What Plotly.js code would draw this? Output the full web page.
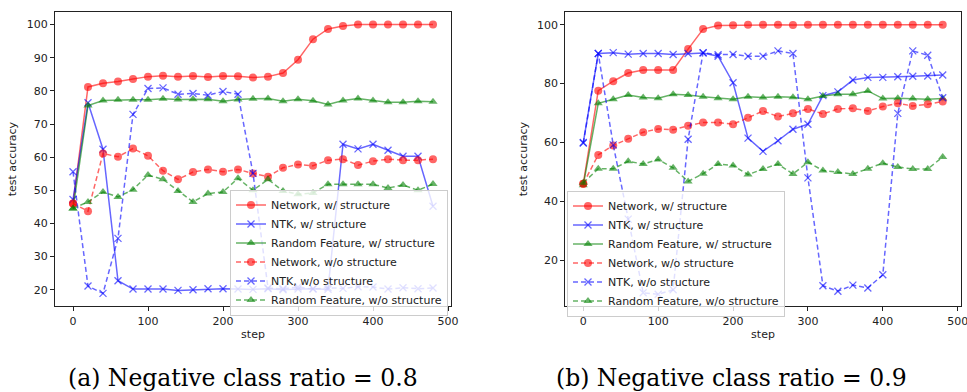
<!DOCTYPE html>
<html>
<head>
<meta charset="utf-8">
<script src="https://cdn.plot.ly/plotly-3.0.1.min.js"></script>
<style>
  html, body { margin: 0; padding: 0; background: #fff; }
  #chart { width: 967px; height: 392px; }
</style>
</head>
<body>
<div id="chart"></div>
<script>
// Training steps shared by every curve
const steps = [0, 20, 40, 60, 80, 100, 120, 140, 160, 180, 200, 220, 240,
               260, 280, 300, 320, 340, 360, 380, 400, 420, 440, 460, 480];

const seriesNames = [
  "Network, w/ structure",
  "NTK, w/ structure",
  "Random Feature, w/ structure",
  "Network, w/o structure",
  "NTK, w/o structure",
  "Random Feature, w/o structure"
];

// (a) negative class ratio 0.8
const a_netS = [46.0, 81.2, 82.3, 82.8, 83.6, 84.3, 84.6, 84.3, 84.5, 84.2, 84.5, 84.4, 84.0,
                84.3, 85.4, 89.4, 95.6, 98.7, 99.6, 100, 100, 100, 100, 100, 100];
const a_ntkS = [47.2, 76.4, 62.4, 22.7, 20.2, 20.2, 20.2, 19.8, 20.0, 20.3, 20.3, 20.2, 20.1,
                20.3, 20.0, 20.2, 20.3, 20.1, 63.9, 62.5, 63.9, 62.1, 60.3, 60.3, 45.2];
const a_rfS  = [44.5, 75.6, 77.1, 77.3, 77.3, 77.3, 77.6, 77.4, 77.5, 77.5, 76.9, 77.4, 77.6,
                77.7, 76.9, 77.5, 77.0, 75.9, 77.1, 77.7, 77.1, 76.6, 76.6, 76.9, 76.7];
const a_netN = [46.0, 43.7, 61.1, 60.1, 62.6, 60.4, 55.9, 53.3, 55.5, 56.3, 55.6, 56.3, 55.1,
                54.1, 56.8, 57.8, 57.4, 59.1, 59.4, 57.6, 58.8, 59.4, 59.1, 59.1, 59.4];
const a_ntkN = [55.6, 21.1, 18.9, 35.5, 72.9, 80.7, 80.9, 79.0, 79.2, 78.7, 79.8, 79.0, 55.1,
                20.5, 20.3, 20.8, 20.2, 20.6, 20.4, 20.9, 20.8, 20.2, 20.6, 20.3, 20.5];
const a_rfN  = [44.5, 46.5, 49.5, 48.0, 50.2, 54.6, 53.3, 49.8, 46.5, 49.0, 49.5, 53.6, 50.0,
                53.3, 49.8, 48.8, 49.2, 51.8, 51.8, 51.8, 51.8, 50.7, 51.6, 50.0, 51.9];

// (b) negative class ratio 0.9
const b_netS = [46.0, 77.6, 80.8, 83.6, 84.6, 84.6, 84.6, 91.7, 98.5, 99.7, 99.8, 100, 100,
                100, 99.9, 100, 100, 100, 100, 100, 100, 100, 100, 100, 100];
const b_ntkS = [60.0, 90.2, 90.5, 90.0, 90.2, 90.2, 89.9, 90.2, 90.4, 89.3, 80.3, 61.5, 57.0,
                60.6, 64.5, 66.2, 75.9, 77.2, 81.2, 82.1, 82.1, 82.3, 82.5, 82.6, 82.9];
const b_rfS  = [45.5, 73.3, 74.7, 76.1, 75.3, 75.0, 76.4, 76.1, 75.5, 75.0, 74.7, 75.5, 75.3,
                75.5, 75.4, 74.7, 75.8, 76.4, 76.4, 77.5, 74.9, 75.0, 74.9, 74.7, 74.9];
const b_netN = [46.0, 55.8, 59.0, 61.3, 63.5, 64.6, 64.3, 65.7, 66.8, 66.8, 66.2, 68.4, 70.7,
                68.8, 69.9, 71.4, 69.7, 71.4, 71.6, 70.7, 72.2, 73.3, 72.4, 73.0, 73.9];
const b_ntkN = [59.8, 90.2, 59.2, 34.0, 9.0, 8.5, 10.0, 61.1, 90.5, 89.8, 89.9, 89.3, 89.3,
                91.1, 90.2, 48.0, 11.4, 9.5, 11.6, 10.6, 15.1, 69.9, 91.1, 89.6, 75.2];
const b_rfN  = [46.3, 51.1, 51.1, 53.6, 52.7, 54.2, 51.4, 46.8, 49.4, 52.7, 52.2, 49.1, 51.0,
                52.7, 49.3, 53.3, 50.5, 50.0, 49.3, 51.1, 53.0, 51.7, 51.0, 51.0, 55.1];

const captions = ["(a) Negative class ratio = 0.8", "(b) Negative class ratio = 0.9"];

// Per-series style: colour, marker, dash
const RED = "rgba(255,0,0,0.6)", BLUE = "rgba(0,0,255,0.6)", GREEN = "rgba(0,128,0,0.6)";
const styles = [
  { c: RED,   sym: "circle",      dash: "solid" },
  { c: BLUE,  sym: "x-thin",      dash: "solid" },
  { c: GREEN, sym: "triangle-up", dash: "solid" },
  { c: RED,   sym: "circle",      dash: "5px,3px" },
  { c: BLUE,  sym: "x-thin",      dash: "5px,3px" },
  { c: GREEN, sym: "triangle-up", dash: "5px,3px" }
];

function makeTraces(series, xa, ya, legendId) {
  return series.map((ys, i) => {
    const s = styles[i];
    const isX = s.sym === "x-thin";
    return {
      type: "scatter", mode: "lines+markers",
      x: steps, y: ys, xaxis: xa, yaxis: ya,
      name: seriesNames[i], legend: legendId,
      line: { color: s.c, width: 1.5, dash: s.dash },
      marker: {
        symbol: s.sym,
        size: isX ? 7 : 8,
        color: s.c,
        line: { color: s.c, width: isX ? 1.3 : 0 }
      },
      hoverinfo: "x+y"
    };
  });
}

const traces = [
  ...makeTraces([a_netS, a_ntkS, a_rfS, a_netN, a_ntkN, a_rfN], "x", "y", "legend"),
  ...makeTraces([b_netS, b_ntkS, b_rfS, b_netN, b_ntkN, b_rfN], "x2", "y2", "legend2")
];

const FONT = "DejaVu Sans, sans-serif";
const W = 967, H = 392;
const px = v => v / W, py = v => 1 - v / H;

const axisBase = {
  showgrid: false, zeroline: false,
  showline: true, mirror: true, linecolor: "#222", linewidth: 1,
  ticks: "outside", ticklen: 4, tickwidth: 1, tickcolor: "#222",
  ticklabeloverflow: "allow",
  tickfont: { family: FONT, size: 11, color: "#222" }
};

const legendBase = {
  bgcolor: "rgba(255,255,255,0.8)", bordercolor: "#cccccc", borderwidth: 1,
  font: { family: FONT, size: 11, color: "#222" },
  xanchor: "left", yanchor: "top", traceorder: "normal",
  itemwidth: 30, tracegroupgap: 0
};

const titleFont = { family: FONT, size: 11, color: "#222" };
const capFont = { family: "DejaVu Serif, serif", size: 23.5, color: "#000" };

const layout = {
  width: W, height: H,
  margin: { l: 0, r: 0, t: 0, b: 0 },
  paper_bgcolor: "#fff", plot_bgcolor: "#fff",
  showlegend: true,
  xaxis: Object.assign({}, axisBase, {
    domain: [px(55), px(451)], range: [-24, 504], tickvals: [0, 100, 200, 300, 400, 500],
    title: { text: "step", font: titleFont, standoff: 3 }, anchor: "y"
  }),
  yaxis: Object.assign({}, axisBase, {
    domain: [py(306.3), py(12)], range: [15, 103.8], tickvals: [20, 30, 40, 50, 60, 70, 80, 90, 100],
    title: { text: "test accuracy", font: titleFont, standoff: 7 }, anchor: "x"
  }),
  xaxis2: Object.assign({}, axisBase, {
    domain: [px(565.3), px(960.7)], range: [-24, 504], tickvals: [0, 100, 200, 300, 400, 500],
    title: { text: "step", font: titleFont, standoff: 3 }, anchor: "y2"
  }),
  yaxis2: Object.assign({}, axisBase, {
    domain: [py(306.3), py(12)], range: [4.4, 104.3], tickvals: [20, 40, 60, 80, 100],
    title: { text: "test accuracy", font: titleFont, standoff: 7 }, anchor: "x2"
  }),
  legend: Object.assign({}, legendBase, { x: px(230), y: py(189.5) }),
  legend2: Object.assign({}, legendBase, { x: px(567), y: py(190.5) }),
  annotations: [
    { text: captions[0], xref: "paper", yref: "paper", x: px(242.5), y: py(378),
      xanchor: "center", yanchor: "middle", showarrow: false, font: capFont },
    { text: captions[1], xref: "paper", yref: "paper", x: px(731.5), y: py(378),
      xanchor: "center", yanchor: "middle", showarrow: false, font: capFont }
  ]
};

Plotly.newPlot("chart", traces, layout, { displayModeBar: false, staticPlot: true });
</script>
</body>
</html>
